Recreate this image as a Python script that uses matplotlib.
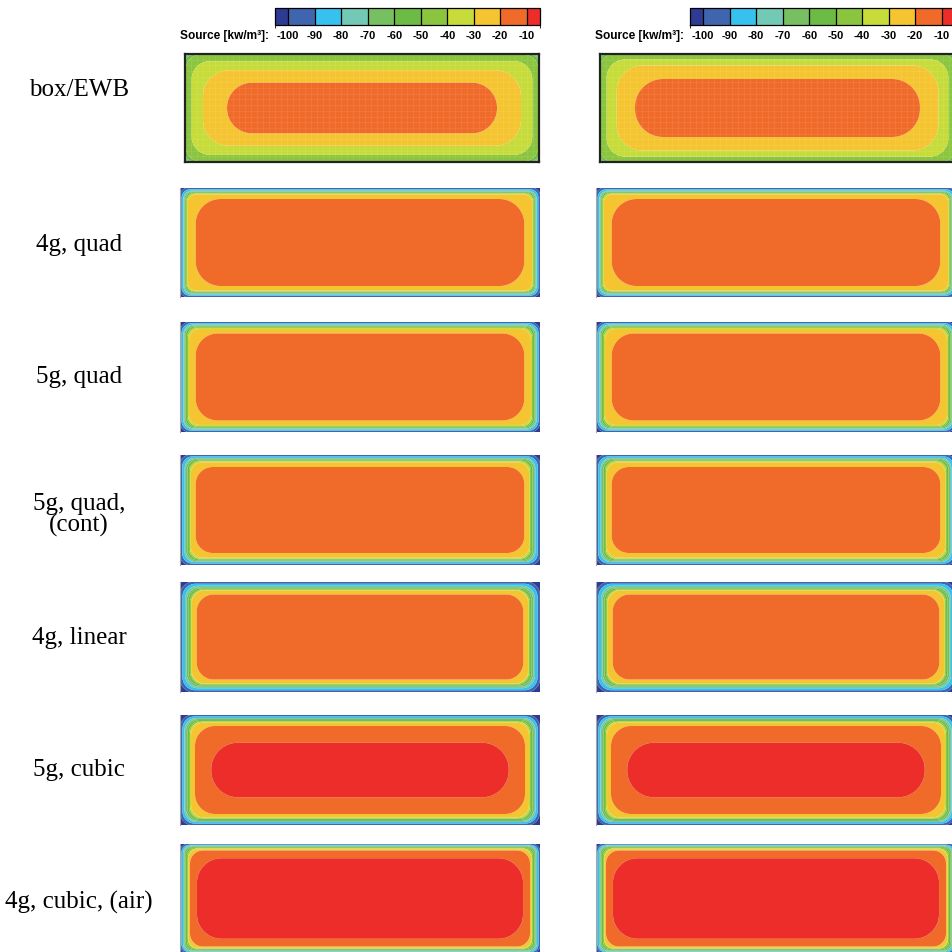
import numpy as np
import matplotlib
matplotlib.use("Agg")
import matplotlib.pyplot as plt
from matplotlib.colors import ListedColormap, BoundaryNorm
from matplotlib.cm import ScalarMappable

# ---------------- data ----------------
bounds = [-105, -100, -90, -80, -70, -60, -50, -40, -30, -20, -10, -5]
band_colors = ["#2E3B92", "#3F65AF", "#37C1EE", "#72C9B5", "#76C062", "#6BBB45",
               "#8BC540", "#C7DC3A", "#F5C431", "#F06A2A", "#EC2D2A"]
tick_values = [-100, -90, -80, -70, -60, -50, -40, -30, -20, -10]
cbar_label = "Source [kw/m³]:"
row_labels = ["box/EWB", "4g, quad", "5g, quad", "5g, quad,\n(cont)",
              "4g, linear", "5g, cubic", "4g, cubic, (air)"]

# contour levels crossed going from panel edge to centre
contour_levels = [-100, -90, -80, -70, -60, -50, -40, -30, -20, -10]
# per panel: for each contour level -> [inset x, inset y, corner radius] (pixels)
# negative inset = level exceeded everywhere, nan = level never reached
ewb_left = np.array([[-5, -5, 0], [-5, -5, 0], [0, 0, 4], [0, 0, 7], [0, 0, 10],
                     [0.8, 0.8, 14], [6.7, 7.2, 18], [18, 16.2, 26], [42, 28.7, 25],
                     [np.nan, np.nan, 0]])
ewb_right = np.array([[-5, -5, 0], [-5, -5, 0], [-5, -5, 0], [0, 0, 5], [0, 0, 8],
                      [0.5, 0.5, 12], [6.7, 5.5, 18], [16.7, 11.5, 26], [35, 25, 28],
                      [np.nan, np.nan, 0]])
quad4 = np.array([[0, 0, 8], [1.7, 1.4, 8], [3.5, 2.8, 8], [4.3, 3.5, 8], [5.2, 4.2, 8],
                  [6.2, 5.0, 8], [7.0, 5.6, 8], [7.7, 6.3, 9], [15.7, 11.0, 25],
                  [np.nan, np.nan, 0]])
quad5 = np.array([[0, 0, 10], [1.5, 1.3, 10], [3.3, 2.7, 10], [4.3, 3.5, 10], [5.5, 4.3, 10],
                  [7.0, 5.2, 10], [8.0, 6.0, 10], [9.0, 7.0, 11], [15.7, 11.5, 22],
                  [np.nan, np.nan, 0]])
quad5_cont = np.array([[0, 0, 10], [2.3, 1.5, 10], [4.7, 3.0, 10], [6.0, 3.8, 10], [7.5, 4.7, 10],
                       [9.0, 5.7, 10], [10.0, 6.5, 10], [10.7, 7.2, 12], [15.7, 12.0, 17],
                       [np.nan, np.nan, 0]])
linear4 = np.array([[0.3, 0, 13], [2.5, 1.8, 13], [5.0, 3.8, 13], [6.7, 5.2, 13], [8.3, 6.3, 13],
                    [10.0, 7.3, 13], [11.0, 8.0, 13], [11.7, 8.5, 13], [16.7, 12.5, 17],
                    [np.nan, np.nan, 0]])
cubic5 = np.array([[0.5, 0, 12], [2.5, 1.5, 12], [4.5, 3.0, 12], [6.0, 4.0, 12], [7.5, 5.0, 12],
                   [9.0, 6.0, 12], [10.0, 6.7, 12], [11.0, 7.5, 13], [15.0, 11.0, 20],
                   [31.0, 27.5, 27]])
cubic4_air = np.array([[0, 0, 8], [1.5, 0.8, 8], [3.0, 1.5, 8], [4.3, 2.3, 8], [5.7, 3.0, 8],
                       [7.0, 3.8, 8], [8.0, 4.5, 9], [8.5, 5.0, 10], [10.0, 6.5, 13],
                       [16.7, 14.0, 25]])

left_panels = [ewb_left, quad4, quad5, quad5_cont, linear4, cubic5, cubic4_air]
right_panels = [ewb_right, quad4, quad5, quad5_cont, linear4, cubic5, cubic4_air]

# ---------------- layout ----------------
FW, FH = 953, 952
fig = plt.figure(figsize=(FW / 100, FH / 100), dpi=100)


def rect(x0, y0, x1, y1):
    return [x0 / FW, 1 - y1 / FH, (x1 - x0) / FW, (y1 - y0) / FH]


rows_y = [(54, 162), (188, 297), (322, 432), (455, 565), (582, 692), (715, 825), (844, 953)]
label_y = [90, 245, 377, 515, 638, 770, 902]
left_x = [(185, 539)] + [(180, 540)] * 6
right_x = [(600, 955)] + [(596, 956)] * 6

cmap = ListedColormap(band_colors)
norm = BoundaryNorm(bounds, cmap.N)
centers = [(bounds[i] + bounds[i + 1]) / 2 for i in range(len(bounds) - 1)]
steps = np.diff(centers)


def rrect_sdf(X, Y, W, H, ix, iy, r):
    a = W / 2 - ix
    b = H / 2 - iy
    r = max(0.0, min(r, a, b))
    qx = np.abs(X - W / 2) - a + r
    qy = np.abs(Y - H / 2) - b + r
    out = np.hypot(np.maximum(qx, 0), np.maximum(qy, 0))
    ins = np.minimum(np.maximum(qx, qy), 0)
    return out + ins - r


def draw_panel(ax, insets, W, H, framed):
    x = np.linspace(0, W, int(W * 2) + 1)
    y = np.linspace(0, H, int(H * 2) + 1)
    X, Y = np.meshgrid(x, y)
    field = np.full(X.shape, centers[0])
    for k in range(len(contour_levels)):
        ix, iy, r = insets[k]
        if np.isnan(ix):
            continue
        d = rrect_sdf(X, Y, W, H, ix, iy, r)
        field += steps[k] * 0.5 * (1 - np.tanh(d / 0.6))
    ax.contourf(X, Y, field, levels=bounds, colors=band_colors, antialiased=True)
    ax.set_xlim(0, W)
    ax.set_ylim(0, H)
    ax.set_xticks([])
    ax.set_yticks([])
    if framed:
        for s in ax.spines.values():
            s.set_linewidth(1.6)
            s.set_color("#222222")
        # faint mesh lines of the box/EWB grid
        for xv in np.linspace(0, W, 60)[1:-1]:
            ax.axvline(xv, color="white", lw=0.4, alpha=0.13)
        for yv in np.linspace(0, H, 20)[1:-1]:
            ax.axhline(yv, color="white", lw=0.4, alpha=0.13)
    else:
        for name, s in ax.spines.items():
            if name == "left":
                s.set_color("#a8a8a8")
                s.set_linewidth(0.8)
            else:
                s.set_visible(False)


for i in range(7):
    y0, y1 = rows_y[i]
    for (x0, x1), insets in ((left_x[i], left_panels[i]), (right_x[i], right_panels[i])):
        ax = fig.add_axes(rect(x0, y0, x1, y1))
        draw_panel(ax, insets, x1 - x0, y1 - y0, framed=(i == 0))
    fig.text(79 / FW, 1 - label_y[i] / FH, row_labels[i], ha="center", va="center",
             family="Liberation Serif", fontsize=18, linespacing=0.95)

# colorbars
for cx0, lx in ((275, 269), (690, 684)):
    cax = fig.add_axes(rect(cx0, 8, cx0 + 265, 25))
    cb = fig.colorbar(ScalarMappable(norm=norm, cmap=cmap), cax=cax,
                      orientation="horizontal", ticks=tick_values, drawedges=True,
                      spacing="proportional")
    cb.outline.set_linewidth(0.9)
    cb.outline.set_edgecolor("black")
    cb.dividers.set_color("black")
    cb.dividers.set_linewidth(0.9)
    cax.tick_params(length=0, pad=4)
    cax.set_xticklabels([str(t) for t in tick_values], fontsize=8, fontweight="bold",
                        family="Liberation Sans")
    fig.text(lx / FW, 1 - 36 / FH, cbar_label, ha="right", va="center",
             fontsize=8.6, fontweight="bold", family="Liberation Sans")

fig.savefig("out.png", dpi=100)
